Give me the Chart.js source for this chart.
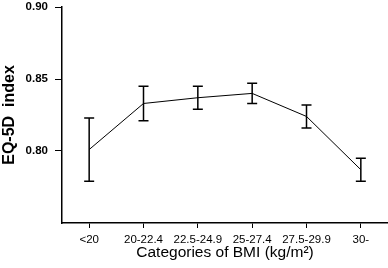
<!DOCTYPE html>
<html>
<head>
<script src="https://cdn.jsdelivr.net/npm/chart.js"></script>
<style>
  html, body { margin: 0; padding: 0; background: #fff; }
  #wrap { width: 388px; height: 268px; }
</style>
</head>
<body>
<div id="wrap"><canvas id="c"></canvas></div>
<script>
// BMI categories and EQ-5D means with upper / lower error limits
const categories = ['<20', '20-22.4', '22.5-24.9', '25-27.4', '27.5-29.9', '30-'];
const means = [0.801, 0.833, 0.837, 0.840, 0.824, 0.787];
const upper = [0.823, 0.845, 0.845, 0.847, 0.832, 0.795];
const lower = [0.779, 0.821, 0.829, 0.833, 0.816, 0.779];
const yTicks = [0.80, 0.85, 0.90];

// draws the vertical error bars with caps
const errorBars = {
    id: 'errorBars',
    afterDatasetsDraw(chart) {
        const ctx = chart.ctx;
        const y = chart.scales.y;
        const meta = chart.getDatasetMeta(0);
        ctx.save();
        ctx.strokeStyle = '#000';
        ctx.lineWidth = 1.5;
        meta.data.forEach((pt, i) => {
            const x = pt.x;
            const yt = y.getPixelForValue(upper[i]);
            const yb = y.getPixelForValue(lower[i]);
            ctx.beginPath();
            ctx.moveTo(x, yt); ctx.lineTo(x, yb);
            ctx.moveTo(x - 5, yt); ctx.lineTo(x + 5, yt);
            ctx.moveTo(x - 5, yb); ctx.lineTo(x + 5, yb);
            ctx.stroke();
        });
        ctx.restore();
    }
};

new Chart(document.getElementById('c'), {
    type: 'line',
    data: {
        labels: categories,
        datasets: [{
            data: means,
            borderColor: '#000',
            borderWidth: 1,
            pointRadius: 0,
            tension: 0
        }]
    },
    options: {
        responsive: true,
        maintainAspectRatio: false,
        animation: false,
        layout: { padding: { top: 7, right: 0, left: 0, bottom: 0 } },
        plugins: { legend: { display: false }, tooltip: { enabled: false } },
        scales: {
            x: {
                offset: true,
                grid: { display: true, drawOnChartArea: false, tickLength: 5, color: '#000', offset: false },
                border: { color: '#000', width: 1.5 },
                ticks: { color: '#000', font: { family: 'Liberation Sans', size: 11.5 }, padding: 5, maxRotation: 0 },
                title: { display: true, text: 'Categories of BMI (kg/m²)', color: '#000',
                         font: { family: 'Liberation Sans', size: 15.5 }, padding: { top: 0, bottom: 6 } },
                afterFit(s) { s.height = 45; s.paddingLeft = 0; s.paddingRight = 0; }
            },
            y: {
                min: 0.75,
                max: 0.90,
                afterBuildTicks(s) { s.ticks = yTicks.map(v => ({ value: v })); },
                grid: { display: true, drawOnChartArea: false, tickLength: 7, color: '#000' },
                border: { color: '#000', width: 1.5 },
                ticks: { color: '#000', font: { family: 'Liberation Sans', size: 11.5, weight: 'bold' }, padding: 7,
                         callback: v => v.toFixed(2) },
                title: { display: true, text: 'EQ-5D  index', color: '#000',
                         font: { family: 'Liberation Sans', size: 16, weight: 'bold' }, padding: 0 },
                afterFit(s) { s.width = 62; s.paddingTop = 0; s.paddingBottom = 0; }
            }
        }
    },
    plugins: [errorBars]
});
</script>
</body>
</html>
